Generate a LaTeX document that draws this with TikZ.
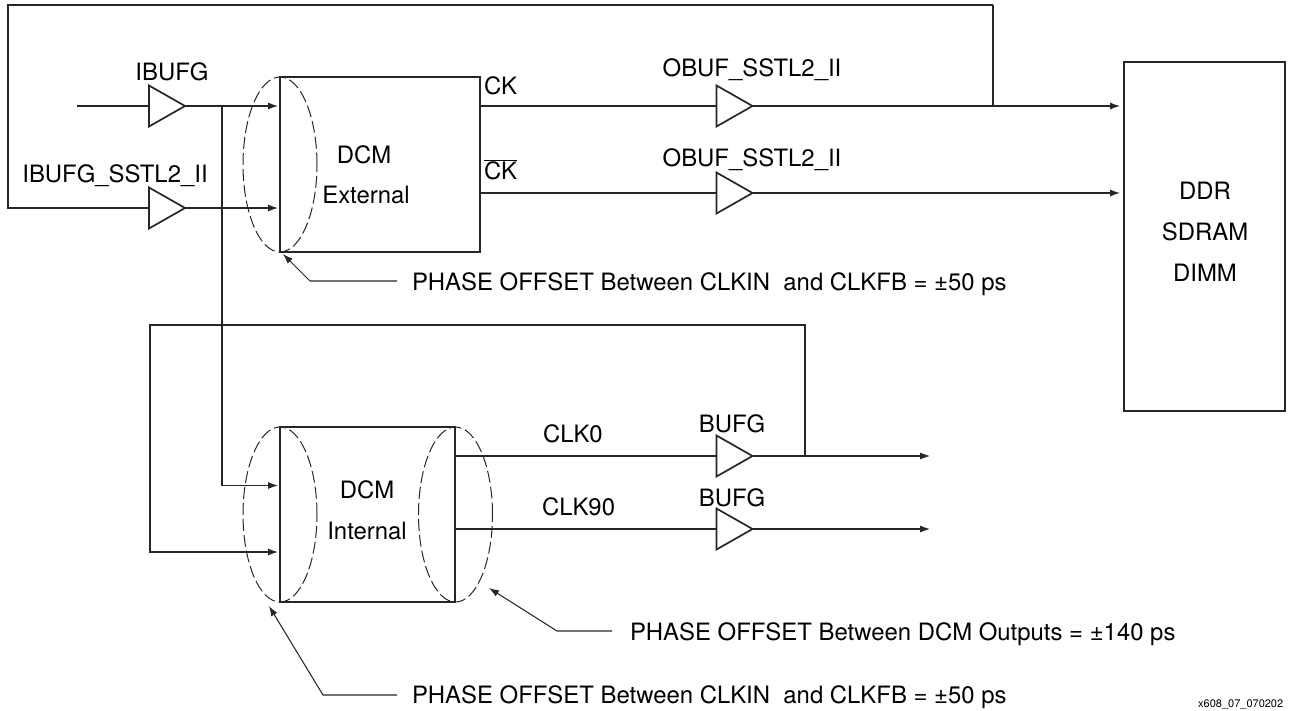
\documentclass[tikz,border=0pt]{standalone}
\usepackage{fontspec}
\setmainfont{TeX Gyre Heros}
\usetikzlibrary{shapes.geometric,arrows.meta}
\tikzset{
 wire/.style={line width=1.05pt,draw=black!85},
 arrowwire/.style={wire,-{Latex[length=10pt,width=7pt]}},
 buf/.style={isosceles triangle,isosceles triangle stretches,draw=black!85,line width=1.7pt,fill=white,minimum width=41pt,minimum height=36pt,inner sep=0pt,outer sep=0pt,anchor=west},
 blockbox/.style={draw=black!85,line width=2pt,inner sep=0pt,outer sep=0pt,anchor=north west},
 dashell/.style={ellipse,draw=black!85,line width=1pt,dash pattern=on 12pt off 4pt,minimum width=74pt,minimum height=175pt,inner sep=0pt,outer sep=0pt},
 lbl/.style={font=\fontsize{23.9}{26}\selectfont,inner sep=0pt,outer sep=0pt,anchor=base west},
 lblc/.style={font=\fontsize{23.9}{26}\selectfont,inner sep=0pt,outer sep=0pt,anchor=base},
}
\begin{document}
\begin{tikzpicture}[x=1pt,y=-1pt]
\useasboundingbox (0,0) rectangle (1301,710);
% blocks
\node[blockbox,minimum width=200pt,minimum height=175pt] (ext) at (280,77) {};
\node[blockbox,minimum width=175pt,minimum height=175pt] (int) at (280,427) {};
\node[blockbox,minimum width=161pt,minimum height=349pt] (ddr) at (1124,62) {};
% dashed ellipses
\node[dashell] (e1) at (280,164.5) {};
\node[dashell] (e2) at (280,514.5) {};
\node[dashell] (e3) at (455.5,514.5) {};
% named points
\coordinate (inA) at (77,106);
\coordinate (inB) at (77,208);
\coordinate (cornerTL) at (8,5);
\coordinate (cornerBL) at (8,208);
\coordinate (cornerTR) at (993,5);
\coordinate (tapCK) at (993,106);
\coordinate (tapI) at (222,106);
\coordinate (tapI2) at (222,485.5);
\coordinate (loopTR) at (805,325);
\coordinate (loopTL) at (150,325);
\coordinate (loopBL) at (150,552);
\coordinate (tapClk) at (805,456);
\coordinate (endA) at (930,456);
\coordinate (endB) at (930,529);
\coordinate (extA) at (278,106);
\coordinate (extB) at (278,208);
\coordinate (intA) at (278,485.5);
\coordinate (intB) at (278,552);
\coordinate (ddrA) at (1120,106);
\coordinate (ddrB) at (1120,193);
\coordinate (ckO) at (480,106);
\coordinate (ckbO) at (480,193);
\coordinate (clkO) at (455,456);
\coordinate (clk90O) at (455,529);
% buffers
\node[buf] (ib1) at (149,106) {};
\node[buf] (ib2) at (149,208) {};
\node[buf] (ob1) at (716.5,106) {};
\node[buf] (ob2) at (716.5,193) {};
\node[buf] (bg1) at (716.5,456) {};
\node[buf] (bg2) at (716.5,529) {};
% wires
\draw[wire] (inA) -- (ib1.west);
\draw[wire] (cornerTR) -- (cornerTL) -- (cornerBL) -- (ib2.west);
\draw[arrowwire] (ib1.east) -- (extA);
\draw[arrowwire] (ib2.east) -- (extB);
\draw[wire] (tapI) -- (tapI2);
\draw[arrowwire] (tapI2) -- (intA);
\draw[wire] (ckO) -- (ob1.west);
\draw[wire] (ckbO) -- (ob2.west);
\draw[arrowwire] (ob1.east) -- (ddrA);
\draw[arrowwire] (ob2.east) -- (ddrB);
\draw[wire] (cornerTR) -- (tapCK);
\draw[wire] (clkO) -- (bg1.west);
\draw[wire] (clk90O) -- (bg2.west);
\draw[arrowwire] (bg1.east) -- (endA);
\draw[arrowwire] (bg2.east) -- (endB);
\draw[arrowwire] (tapClk) -- (loopTR) -- (loopTL) -- (loopBL) -- (intB);
% leaders
\coordinate (l1a) at (397,281); \coordinate (l1b) at (310,281); \coordinate (l1c) at (283,254);
\coordinate (l2a) at (397,695); \coordinate (l2b) at (323,695); \coordinate (l2c) at (269,606);
\coordinate (l3a) at (612,631); \coordinate (l3b) at (557,631); \coordinate (l3c) at (489,588);
\draw[arrowwire] (l1a) -- (l1b) -- (l1c);
\draw[arrowwire] (l2a) -- (l2b) -- (l2c);
\draw[arrowwire] (l3a) -- (l3b) -- (l3c);
% labels
\node[lblc] (t1) at (172,80) {IBUFG};
\node[lblc] (t2) at (115,182) {IBUFG\_SSTL2\_II};
\node[lblc] (t3) at (752,76) {OBUF\_SSTL2\_II};
\node[lblc] (t4) at (752,166) {OBUF\_SSTL2\_II};
\node[lbl] (t5) at (484,94) {CK};
\node[lbl] (t6) at (484,179) {$\overline{\mbox{CK}}$};
\node[lblc] (t7) at (364,163) {DCM};
\node[lblc] (t8) at (366,203) {External};
\node[lblc] (t9) at (367,498) {DCM};
\node[lblc] (t10) at (367,539) {Internal};
\node[lbl] (t11) at (543,442) {CLK0};
\node[lbl] (t12) at (542,515) {CLK90};
\node[lblc] (t13) at (732,432) {BUFG};
\node[lblc] (t14) at (732,506) {BUFG};
\node[lblc] (t15) at (1205,199) {DDR};
\node[lblc] (t16) at (1205,240) {SDRAM};
\node[lblc] (t17) at (1205,281) {DIMM};
\node[lbl] (t18) at (412,290) {PHASE OFFSET Between CLKIN\ \ and CLKFB = ±50 ps};
\node[lbl] (t19) at (630,640) {PHASE OFFSET Between DCM Outputs = ±140 ps};
\node[lbl] (t20) at (412,703) {PHASE OFFSET Between CLKIN\ \ and CLKFB = ±50 ps};
\node[inner sep=0pt,anchor=base west,font=\fontsize{11}{12}\selectfont] (t21) at (1198,707) {x608\_07\_070202};
\end{tikzpicture}
\end{document}
